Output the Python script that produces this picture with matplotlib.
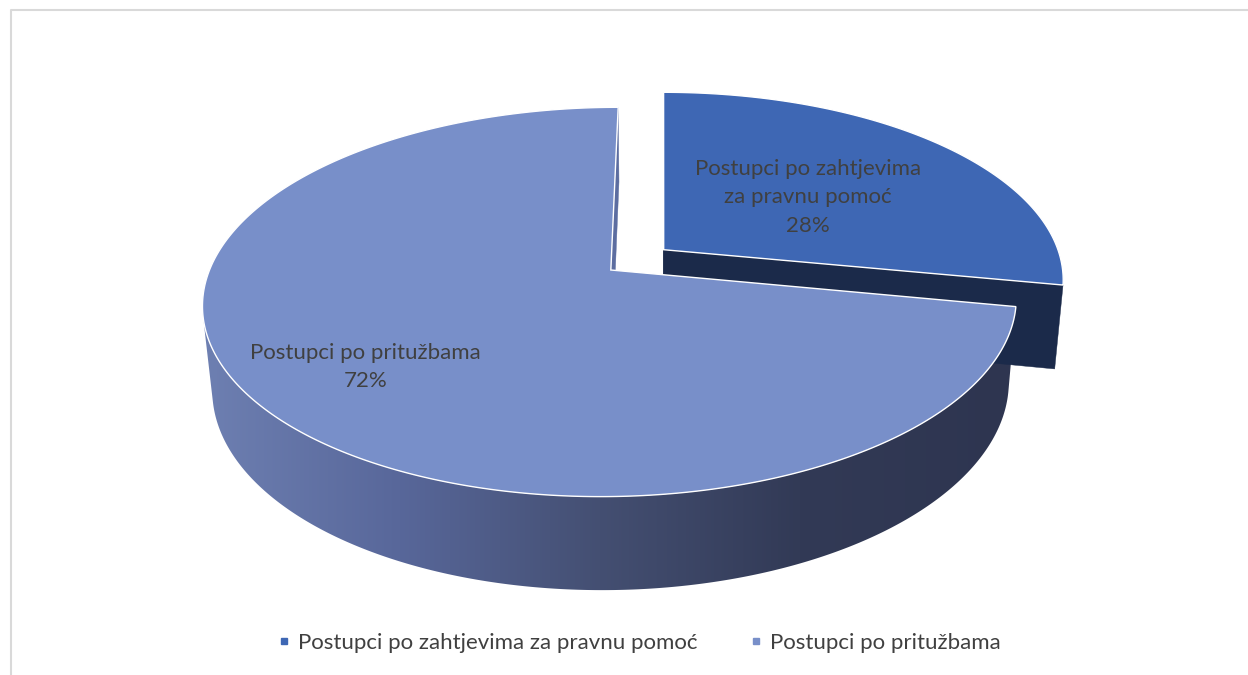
import numpy as np
import matplotlib
matplotlib.use('Agg')
import matplotlib.pyplot as plt
from matplotlib.patches import Polygon
from matplotlib.lines import Line2D
from matplotlib.colors import to_rgb

# data
categories = ['Postupci po zahtjevima za pravnu pomoć', 'Postupci po pritužbama']
slice_labels = ['Postupci po zahtjevima\nza pravnu pomoć', 'Postupci po pritužbama']
values = [28, 72]
explode = [0.171, 0.0]

top_colors = ['#3e67b4', '#788fc9']
face_colors = ['#1b2a4a', '#2e3550']
text_color = '#404040'
FONT = 'Lato'

# side gradient (by screen x)
grad_x = [200, 400, 600, 800, 1010]
grad_c = ['#6e80b2', '#58679a', '#444f72', '#323a56', '#2e3550']

# camera / projection (pixel space)
CX, CY = 663, 270
XC = 0.13          # camera sideways offset (world units)
F = 2155.0
D = 5.37
E = np.arcsin(0.472)
H = 0.24
S, C = np.sin(E), np.cos(E)
CAM = np.array([XC, -D * C, D * S])


def proj(X, Y, Z):
    X = np.asarray(X, float)
    Y = np.asarray(Y, float)
    Z = np.asarray(Z, float)
    depth = D + Y * C - Z * S
    return CX + F * (X - XC) / depth, CY - F * (Y * S + Z * C) / depth


fig = plt.figure(figsize=(12.48, 6.75), dpi=100)
ax = fig.add_axes([0, 0, 1, 1])

# chart area border (top and left visible)
ax.plot([11, 11, 1248], [675, 10, 10], color='#d9d9d9', lw=1.5, solid_capstyle='butt')

# horizontal gradient image for the big slice's wall
gx = np.linspace(150, 1100, 800)
rgb = np.array([to_rgb(c) for c in grad_c])
grad = np.stack([np.interp(gx, grad_x, rgb[:, k]) for k in range(3)], axis=-1)[np.newaxis]

total = float(sum(values))
cum = 0.0
for i in range(len(values)):
    t0 = np.radians(90 - cum / total * 360)
    t1 = np.radians(90 - (cum + values[i]) / total * 360)
    mid = (t0 + t1) / 2
    cum += values[i]
    ox, oy = explode[i] * np.cos(mid), explode[i] * np.sin(mid)
    o = np.array([ox, oy, 0.0])

    # radial faces
    for t, sgn in [(t0, 1), (t1, -1)]:
        n = sgn * np.array([-np.sin(t), np.cos(t), 0.0])
        p = o + np.array([0.5 * np.cos(t), 0.5 * np.sin(t), -H / 2])
        if np.dot(CAM - p, n) > 1e-3:
            rx, ry = ox + np.cos(t), oy + np.sin(t)
            xs, ys = proj([ox, rx, rx, ox], [oy, ry, ry, oy], [0, 0, -H, -H])
            col = face_colors[i] if i == 0 else '#5c6da0'
            ax.add_patch(Polygon(np.column_stack([xs, ys]), facecolor=col,
                                 edgecolor=col, lw=0.3))

    # outer wall: front-facing part of the rim
    ts = np.linspace(t0, t1, 800)
    nx, ny = np.cos(ts), np.sin(ts)
    vis = ((CAM[0] - ox - nx) * nx + (CAM[1] - oy - ny) * ny) > 0
    if vis.any():
        tv = ts[vis]
        X = np.concatenate([ox + np.cos(tv), (ox + np.cos(tv))[::-1]])
        Y = np.concatenate([oy + np.sin(tv), (oy + np.sin(tv))[::-1]])
        Z = np.concatenate([np.zeros(len(tv)), np.full(len(tv), -H)])
        xs, ys = proj(X, Y, Z)
        if i == 1:
            wall = Polygon(np.column_stack([xs, ys]), facecolor='none', edgecolor='none')
            ax.add_patch(wall)
            im = ax.imshow(grad, extent=[gx[0], gx[-1], 675, 0], aspect='auto',
                           interpolation='bilinear')
            im.set_clip_path(wall)
        else:
            ax.add_patch(Polygon(np.column_stack([xs, ys]), facecolor=face_colors[i],
                                 edgecolor=face_colors[i], lw=0.5))

    # top surface
    arc = np.linspace(t0, t1, 400)
    X = np.concatenate([[ox], ox + np.cos(arc)])
    Y = np.concatenate([[oy], oy + np.sin(arc)])
    xs, ys = proj(X, Y, np.zeros_like(X))
    ax.add_patch(Polygon(np.column_stack([xs, ys]), facecolor=top_colors[i],
                         edgecolor='white', lw=1.0, joinstyle='miter', zorder=3))

    # data label
    r = 0.5 if i == 0 else 0.72
    lx, ly = proj(ox + r * np.cos(mid), oy + r * np.sin(mid), 0)
    ax.text(lx, ly + 3, f'{slice_labels[i]}\n{values[i] / total:.0%}', ha='center', va='center',
            fontsize=16, color=text_color, family=[FONT, 'DejaVu Sans'], linespacing=1.55,
            zorder=5)

ax.set_xlim(0, 1248)
ax.set_ylim(675, 0)
ax.axis('off')

handles = [Line2D([], [], marker='s', ls='none', markersize=5, color=c) for c in top_colors]
fig.legend(handles, categories, loc='center', bbox_to_anchor=(639 / 1248, 1 - 643 / 675),
           ncol=2, frameon=False, handlelength=0.6, handletextpad=0.35, columnspacing=2.3,
           labelcolor=text_color, prop={'family': [FONT, 'DejaVu Sans'], 'size': 16})

fig.savefig('out.png', dpi=100, facecolor='white')
